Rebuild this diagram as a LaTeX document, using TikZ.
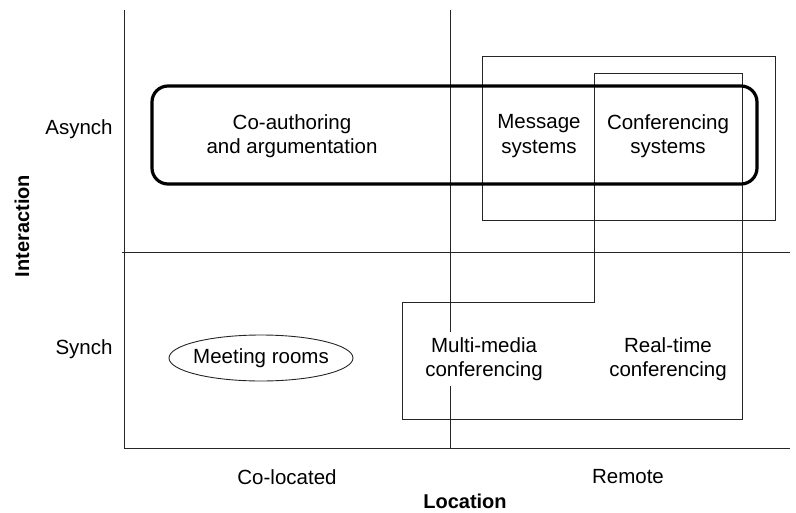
\documentclass[tikz,border=0pt]{standalone}
\usepackage{fontspec}
\setmainfont{Liberation Sans}
\begin{document}
\begin{tikzpicture}[x=1pt,y=-1pt,
  thin line/.style={line width=0.9pt, draw=black!85},
  group box/.style={line width=1pt, draw=black!85},
  thick band/.style={line width=3.2pt, draw=black, rounded corners=16pt},
  label/.style={font=\fontsize{20.5}{24.5}\selectfont, align=center, inner sep=2pt},
  axis title/.style={font=\fontsize{20}{24}\selectfont\bfseries, inner sep=0pt}]
  \useasboundingbox (0,0) rectangle (796,512);

  % quadrant frame
  \coordinate (tl) at (124,10);
  \coordinate (bl) at (124,448);
  \coordinate (br) at (790,448);
  \coordinate (ml) at (122,252);
  \coordinate (mr) at (790,252);
  \coordinate (mt) at (450,10);
  \coordinate (mb) at (450,448);
  \draw[thin line] (tl) -- (bl) -- (br);
  \draw[thin line] (ml) -- (mr);
  \draw[thin line] (mt) -- (mb);

  % remote, asynchronous group
  \draw[group box] (482,56) rectangle (775,220);

  % conferencing group (L-shaped)
  \draw[group box] (594,73) -- (742,73) -- (742,419) -- (402,419)
    -- (402,302) -- (594,302) -- cycle;

  % asynchronous band
  \draw[thick band] (152,86) rectangle (757,184);

  % axis labels
  \node[label] (asynch) at (79,129) {Asynch};
  \node[label] (synch) at (84,349) {Synch};
  \node[axis title, rotate=90] (interaction) at (22,226) {Interaction};
  \node[label] (colocated) at (287,477) {Co-located};
  \node[label] (remote) at (628,477) {Remote};
  \node[axis title] (location) at (465,501) {Location};

  % cell contents
  \node[label] (coauth) at (292,136) {Co-authoring\\and argumentation};
  \node[label] (message) at (539,136) {Message\\systems};
  \node[label] (confsys) at (668,136) {Conferencing\\systems};
  \node[label] (meeting) at (261,358) {Meeting rooms};
  \draw[thin line] (meeting.center) ellipse [x radius=92, y radius=23];
  \node[label, fill=white, inner sep=5pt] (multimedia) at (484,359) {Multi-media\\conferencing};
  \node[label] (realtime) at (668,359) {Real-time\\conferencing};
\end{tikzpicture}
\end{document}
